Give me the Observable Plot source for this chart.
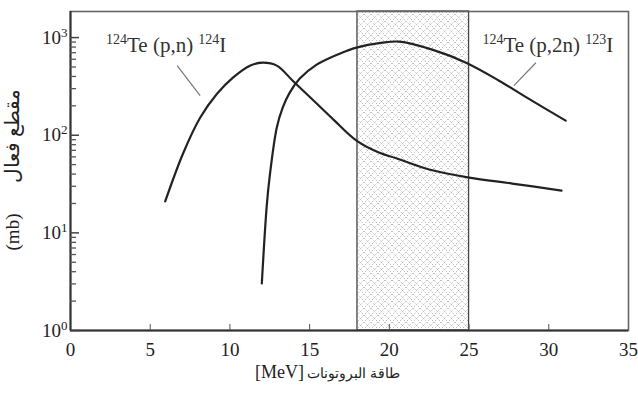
<!DOCTYPE html>
<html><head><meta charset="utf-8">
<script src="https://cdn.jsdelivr.net/npm/d3@7"></script>
<script src="https://cdn.jsdelivr.net/npm/@observablehq/plot@0.6"></script>
<style>body{margin:0;background:#fff}</style>
</head><body><div id="chart"></div>
<script>
// 124Te(p,n)124I excitation function (MeV, mb)
const energyPN = [5.94, 7.06, 8.13, 9.19, 10.19, 11.25, 12.06, 12.94, 13.94, 15.44, 16.56, 17.94, 19.38, 20.44, 22.5, 25, 27.7, 30.8];
const sigmaPN  = [21, 65, 151, 266, 389, 516, 553, 516, 362, 211, 141, 88, 66, 58, 44.5, 36.8, 32, 27.1];
// 124Te(p,2n)123I excitation function (MeV, mb)
const energyP2N = [12.0, 12.31, 12.5, 12.94, 13.31, 13.75, 14.38, 15.44, 16.88, 17.94, 19.56, 20.63, 22.69, 24.81, 26.88, 28.94, 31.06];
const sigmaP2N  = [3.03, 19, 38.6, 120, 192, 273, 380, 528, 684, 789, 888, 908, 752, 553, 362, 226, 141];
// optimal energy window (MeV)
const bandRange = [18, 25];
const xTicks = [0, 5, 10, 15, 20, 25, 30, 35];
const yMajor = [1, 10, 100, 1000];
const yMinor = [2,3,4,5,6,7,8,9,20,30,40,50,60,70,80,90,200,300,400,500,600,700,800,900];
const labelPN = "¹²⁴Te (p,n) ¹²⁴I";
const labelP2N = "¹²⁴Te (p,2n) ¹²³I";
const xLabelWords = "طاقة البروتونات";
const xLabelUnit = "[MeV]";
const yLabelWords = "مقطع فعال";
const yLabelUnit = "(mb)";

const pn = energyPN.map((e, i) => ({energy: e, sigma: sigmaPN[i]}));
const p2n = energyP2N.map((e, i) => ({energy: e, sigma: sigmaP2N[i]}));
const sup = ["⁰", "¹", "²", "³"];

const chart = Plot.plot({
  width: 638, height: 395,
  marginLeft: 70, marginRight: 10, marginTop: 11, marginBottom: 65,
  style: {fontFamily: "'Liberation Serif', 'DejaVu Serif', serif", fontSize: "19px", color: "#222", background: "#fff"},
  x: {domain: [0, 35]},
  y: {type: "log", domain: [1, 1850]},
  marks: [
    Plot.rect([bandRange], {x1: d => d[0], x2: d => d[1], fill: "url(#hatch)", stroke: "#444", strokeWidth: 1.3}),
    Plot.frame({stroke: "#666", strokeWidth: 1.6}),
    Plot.ruleX([0], {stroke: "#333", strokeWidth: 2}),
    Plot.ruleY([1], {stroke: "#333", strokeWidth: 2}),
    Plot.axisX({ticks: xTicks, tickSize: 0, tickPadding: 12, label: null, fontSize: 19}),
    Plot.axisX({ticks: xTicks.slice(1, -1), tickSize: -6, tickFormat: () => "", label: null, stroke: "#555"}),
    Plot.axisY({ticks: yMajor, tickSize: 0, tickPadding: 3, label: null, fontSize: 19,
      tickFormat: d => "10" + sup[Math.round(Math.log10(d))]}),
    Plot.axisY({ticks: yMajor, tickSize: -9, tickFormat: () => "", label: null, stroke: "#444", strokeWidth: 1.5}),
    Plot.axisY({ticks: yMinor, tickSize: -6, tickFormat: () => "", label: null, stroke: "#555", strokeWidth: 1.3}),
    Plot.line(pn, {x: "energy", y: "sigma", curve: "catmull-rom", stroke: "#222", strokeWidth: 2.2}),
    Plot.line(p2n, {x: "energy", y: "sigma", curve: "catmull-rom", stroke: "#222", strokeWidth: 2.2}),
    Plot.link([labelPN], {x1: 6.69, y1: 516, x2: 8.13, y2: 255, stroke: "#777", strokeWidth: 1.2}),
    Plot.link([labelP2N], {x1: 29.19, y1: 552, x2: 27.81, y2: 322, stroke: "#777", strokeWidth: 1.2}),
    Plot.text([labelPN], {x: 6.0, y: 826, text: d => d, fontSize: 21, fill: "#333"}),
    Plot.text([labelP2N], {x: 29.94, y: 826, text: d => d, fontSize: 21, fill: "#333"}),
    Plot.text([xLabelWords], {frameAnchor: "bottom", dy: 47, dx: 4, text: d => d, fontSize: 14, fill: "#222"}),
    Plot.text([xLabelUnit], {frameAnchor: "bottom", dy: 47, dx: -70, text: d => d, fontSize: 18, fill: "#222"}),
    Plot.text([yLabelWords], {frameAnchor: "left", dx: -58, dy: -35, rotate: -90, text: d => d, fontSize: 20, fill: "#222"}),
    Plot.text([yLabelUnit], {frameAnchor: "left", dx: -58, dy: 61, rotate: -90, text: d => d, fontSize: 19, fill: "#222"})
  ]
});

const defs = d3.select(chart).insert("defs", ":first-child");
const pat = defs.append("pattern").attr("id", "hatch").attr("patternUnits", "userSpaceOnUse")
  .attr("width", 7).attr("height", 7);
pat.append("rect").attr("width", 7).attr("height", 7).attr("fill", "#fff");
pat.append("path").attr("d", "M0,0L7,7M7,0L0,7").attr("stroke", "#9c9c9c")
  .attr("stroke-width", 0.9).attr("stroke-dasharray", "1,1.5").attr("fill", "none");

document.getElementById("chart").appendChild(chart);

// center axis-title texts precisely on their anchors (bidi-safe)
const titles = new Set([xLabelWords, xLabelUnit, yLabelWords, yLabelUnit]);
d3.select(chart).selectAll("text").each(function() {
  if (!titles.has(this.textContent)) return;
  this.setAttribute("text-anchor", "start");
  const b = this.getBBox();
  this.setAttribute("x", -(b.x + b.width / 2));
});

// render superscript digits as raised, smaller tspans
const supMap = {"⁰":"0","¹":"1","²":"2","³":"3","⁴":"4","⁵":"5","⁶":"6","⁷":"7","⁸":"8","⁹":"9"};
const supRe = /[⁰¹²³⁴⁵⁶⁷⁸⁹]/;
d3.select(chart).selectAll("text").each(function() {
  const el = this;
  if (el.children.length) return;
  const s = el.textContent;
  if (!supRe.test(s)) return;
  const fs = parseFloat(getComputedStyle(el).fontSize) || 19;
  const shift = Math.round(fs * 0.38);
  const parts = s.match(/[⁰¹²³⁴⁵⁶⁷⁸⁹]+|[^⁰¹²³⁴⁵⁶⁷⁸⁹]+/g);
  el.textContent = "";
  let raised = false;
  for (const p of parts) {
    const isSup = supRe.test(p[0]);
    const ts = d3.select(el).append("tspan").text(isSup ? [...p].map(c => supMap[c]).join("") : p);
    if (isSup) {
      ts.attr("font-size", Math.round(fs * 0.68));
      if (!raised) { ts.attr("dy", -shift); raised = true; }
    } else if (raised) {
      ts.attr("dy", shift); raised = false;
    }
  }
});
</script>
</body></html>
